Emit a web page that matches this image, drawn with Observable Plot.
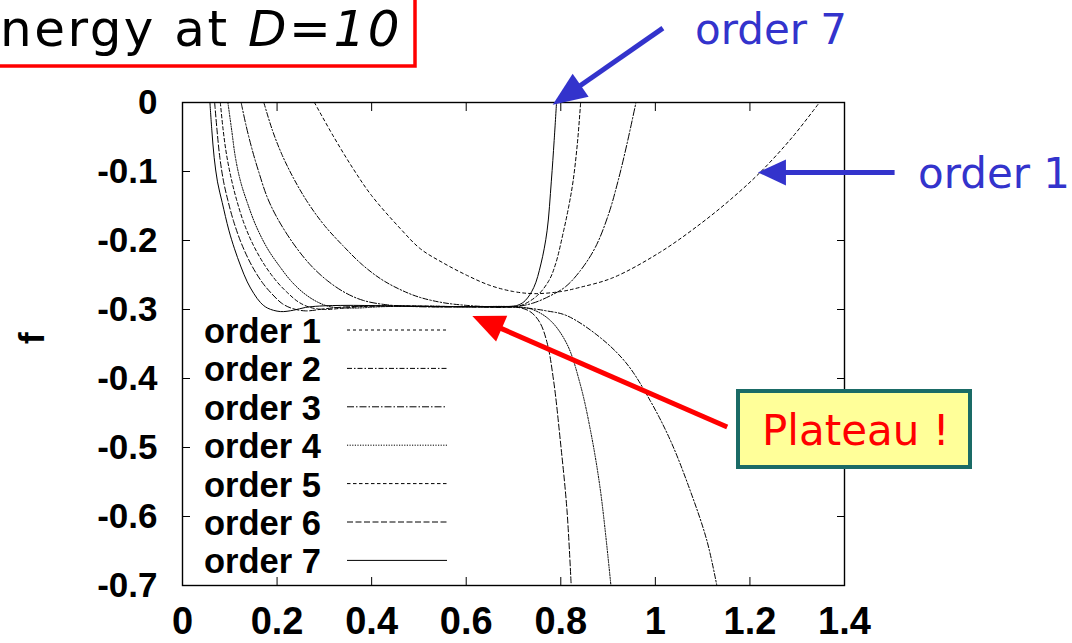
<!DOCTYPE html>
<html><head><meta charset="utf-8">
<script src="https://cdn.jsdelivr.net/npm/d3@7"></script>
<script src="https://cdn.jsdelivr.net/npm/@observablehq/plot@0.6"></script>
<style>
html,body{margin:0;padding:0;background:#fff;overflow:hidden}
#wrap{position:relative;width:1072px;height:643px}
#wrap svg{display:block}
g[aria-label$="tick label"] text{font-weight:bold}
</style></head><body><div id="wrap"></div>
<script>
// ---- data (x, f) ----
const seriesNames = ["order 1","order 2","order 3","order 4","order 5","order 6","order 7"];
const xTicks = [0,0.2,0.4,0.6,0.8,1,1.2,1.4];
const yTicks = [0,-0.1,-0.2,-0.3,-0.4,-0.5,-0.6,-0.7];

const order1 = [[0.279,0],[0.32,-0.05],[0.36,-0.095],[0.40,-0.135],[0.461,-0.183],[0.503,-0.212],[0.55,-0.232],[0.60,-0.25],[0.65,-0.265],[0.70,-0.274],[0.745,-0.277],[0.80,-0.274],[0.84,-0.268],[0.91,-0.254],[1.01,-0.217],[1.095,-0.176],[1.16,-0.14],[1.222,-0.101],[1.29,-0.05],[1.347,0]];
const order2 = [[0.172,0],[0.19,-0.04],[0.21,-0.075],[0.235,-0.11],[0.265,-0.145],[0.30,-0.178],[0.34,-0.208],[0.38,-0.235],[0.42,-0.256],[0.46,-0.271],[0.50,-0.282],[0.55,-0.29],[0.60,-0.294],[0.65,-0.296],[0.715,-0.297],[0.77,-0.302],[0.813,-0.309],[0.884,-0.341],[0.94,-0.379],[0.989,-0.432],[1.032,-0.49],[1.074,-0.563],[1.109,-0.635],[1.13,-0.70]];
const order3 = [[0.124,0],[0.135,-0.035],[0.148,-0.07],[0.161,-0.1],[0.179,-0.137],[0.20,-0.167],[0.235,-0.205],[0.27,-0.235],[0.306,-0.258],[0.345,-0.276],[0.383,-0.287],[0.43,-0.293],[0.50,-0.296],[0.60,-0.296],[0.70,-0.296],[0.74,-0.291],[0.778,-0.28],[0.81,-0.267],[0.841,-0.244],[0.873,-0.21],[0.901,-0.162],[0.921,-0.114],[0.94,-0.06],[0.959,0]];
const order4 = [[0.096,0],[0.104,-0.04],[0.112,-0.08],[0.123,-0.115],[0.137,-0.145],[0.155,-0.178],[0.18,-0.212],[0.207,-0.239],[0.23,-0.259],[0.256,-0.276],[0.285,-0.289],[0.313,-0.296],[0.36,-0.298],[0.42,-0.296],[0.5,-0.295],[0.6,-0.296],[0.70,-0.296],[0.74,-0.300],[0.778,-0.316],[0.813,-0.35],[0.841,-0.408],[0.863,-0.476],[0.884,-0.563],[0.906,-0.70]];
const order5 = [[0.080,0],[0.086,-0.04],[0.093,-0.075],[0.103,-0.11],[0.114,-0.14],[0.13,-0.175],[0.15,-0.207],[0.175,-0.237],[0.20,-0.26],[0.221,-0.275],[0.245,-0.289],[0.27,-0.297],[0.30,-0.300],[0.34,-0.298],[0.40,-0.295],[0.5,-0.295],[0.6,-0.296],[0.70,-0.296],[0.72,-0.293],[0.75,-0.28],[0.775,-0.258],[0.789,-0.234],[0.806,-0.186],[0.817,-0.15],[0.826,-0.114],[0.835,-0.06],[0.842,0]];
const order6 = [[0.068,0],[0.073,-0.04],[0.079,-0.08],[0.087,-0.115],[0.096,-0.142],[0.108,-0.172],[0.125,-0.205],[0.147,-0.237],[0.17,-0.262],[0.19,-0.278],[0.21,-0.291],[0.23,-0.298],[0.26,-0.302],[0.30,-0.299],[0.35,-0.296],[0.45,-0.295],[0.55,-0.296],[0.65,-0.296],[0.71,-0.297],[0.735,-0.303],[0.755,-0.318],[0.771,-0.348],[0.785,-0.404],[0.799,-0.49],[0.813,-0.59],[0.822,-0.70]];
const order7 = [[0.058,0],[0.062,-0.04],[0.067,-0.08],[0.074,-0.115],[0.084,-0.145],[0.098,-0.185],[0.11,-0.212],[0.123,-0.237],[0.137,-0.26],[0.151,-0.277],[0.165,-0.29],[0.18,-0.298],[0.207,-0.303],[0.235,-0.301],[0.26,-0.297],[0.29,-0.295],[0.35,-0.294],[0.45,-0.295],[0.55,-0.296],[0.65,-0.296],[0.70,-0.295],[0.712,-0.293],[0.725,-0.287],[0.743,-0.268],[0.758,-0.234],[0.771,-0.186],[0.78,-0.114],[0.786,-0.055],[0.791,0]];

// annotation arrows (tail -> tip, in data units)
const arrow7 = {from:[1.017,0.107], to:[0.784,-0.004]};
const arrow1 = {from:[1.507,-0.102], to:[1.218,-0.102]};
const arrowPlateau = {from:[1.153,-0.471], to:[0.614,-0.310]};

// ---- styles ----
const series = [order1,order2,order3,order4,order5,order6,order7];
const dashes = ["3,3","5,2,1.5,2","7,2,1.5,2","1.2,1.4","3.5,2.5","6,2.5",null];
const tickFmt = d => String(+(+d).toFixed(1));
const labelFont = "'Liberation Sans', Arial, Helvetica, sans-serif";
const slideFont = "'DejaVu Sans', Verdana, sans-serif";

const marks = [];
series.forEach((pts, i) => {
  marks.push(Plot.line(pts, {x: d => d[0], y: d => d[1], stroke: "#000", strokeWidth: 1,
    strokeDasharray: dashes[i], curve: "catmull-rom", clip: true}));
});
marks.push(
  Plot.frame({stroke: "#000", strokeWidth: 1.4}),
  Plot.axisX({anchor: "bottom", ticks: xTicks, tickSize: -8, tickFormat: () => "", label: null}),
  Plot.axisX({anchor: "top", ticks: xTicks, tickSize: -8, tickFormat: () => "", label: null}),
  Plot.axisY({anchor: "left", ticks: yTicks, tickSize: -8, tickFormat: () => "", label: null}),
  Plot.axisY({anchor: "right", ticks: yTicks, tickSize: -8, tickFormat: () => "", label: null}),
  Plot.axisX({anchor: "bottom", ticks: xTicks, tickSize: 0, tickPadding: 22, tickFormat: tickFmt,
    label: null, fontSize: 38, fontWeight: "bold", fontFamily: labelFont}),
  Plot.axisY({anchor: "left", ticks: yTicks, tickSize: 0, tickPadding: 25, tickFormat: tickFmt,
    label: null, fontSize: 35, fontWeight: "bold", fontFamily: labelFont}),
  Plot.text(["f"], {frameAnchor: "left", dx: -150, rotate: -90, text: d => d,
    fontSize: 35, fontWeight: "bold", fontFamily: labelFont, fill: "#000"})
);

const chart = Plot.plot({
  width: 1072, height: 643,
  marginLeft: 182, marginRight: 228, marginTop: 102, marginBottom: 58,
  x: {domain: [0, 1.4]},
  y: {domain: [-0.7, 0]},
  style: {fontFamily: labelFont, background: "#fff", color: "#000"},
  marks
});
document.getElementById("wrap").appendChild(chart);

// ---- overlay: legend, annotations ----
const sx = chart.scale("x"), sy = chart.scale("y");
const X = v => sx.apply(v), Y = v => sy.apply(v);
const svg = d3.select(chart);
const g = svg.append("g").attr("text-anchor", "start");

// legend inside the frame
const lg = g.append("g");
seriesNames.forEach((name, i) => {
  const yy = 330 + i * 38.4;
  lg.append("text").attr("x", 204).attr("y", yy + 13).attr("text-anchor", "start").text(name)
    .attr("font-family", labelFont).attr("font-weight", "bold").attr("font-size", 34.5).attr("fill", "#000");
  lg.append("line").attr("x1", 347).attr("x2", 447).attr("y1", yy).attr("y2", yy)
    .attr("stroke", "#000").attr("stroke-width", 1).attr("stroke-dasharray", dashes[i]);
});

function arrow(a, color, w, headLen, headHalf) {
  const x1 = X(a.from[0]), y1 = Y(a.from[1]), x2 = X(a.to[0]), y2 = Y(a.to[1]);
  const dx = x2 - x1, dy = y2 - y1, L = Math.hypot(dx, dy), ux = dx / L, uy = dy / L;
  const bx = x2 - ux * headLen, by = y2 - uy * headLen;
  g.append("line").attr("x1", x1).attr("y1", y1).attr("x2", bx + ux * 2).attr("y2", by + uy * 2)
    .attr("stroke", color).attr("stroke-width", w);
  g.append("polygon").attr("fill", color).attr("points",
    [[x2, y2], [bx - uy * headHalf, by + ux * headHalf], [bx + uy * headHalf, by - ux * headHalf]].map(p => p.join(",")).join(" "));
}
arrow(arrow7, "#3333cc", 5, 34, 14);
arrow(arrow1, "#3333cc", 5, 28, 13);

// Plateau box
g.append("rect").attr("x", 738).attr("y", 391).attr("width", 232).attr("height", 76)
  .attr("fill", "#ffff99").attr("stroke", "#1a6b66").attr("stroke-width", 4);
g.append("text").attr("x", 762).attr("y", 445).attr("text-anchor", "start").text("Plateau !")
  .attr("font-family", slideFont).attr("font-size", 42).attr("fill", "#ff0000");
arrow(arrowPlateau, "#ff0000", 5, 32, 14);

// blue labels
g.append("text").attr("x", 695).attr("y", 44).attr("text-anchor", "start").text("order 7")
  .attr("font-family", slideFont).attr("font-size", 42).attr("fill", "#3333cc");
g.append("text").attr("x", 918).attr("y", 188).attr("text-anchor", "start").text("order 1")
  .attr("font-family", slideFont).attr("font-size", 42).attr("fill", "#3333cc");

// title box (cut off at the left edge)
g.append("rect").attr("x", -10).attr("y", -10).attr("width", 425).attr("height", 76)
  .attr("fill", "#fff").attr("stroke", "#ff0000").attr("stroke-width", 3.5);
const t = g.append("text").attr("x", 0).attr("y", 46).attr("text-anchor", "start")
  .attr("font-family", slideFont).attr("font-size", 50)
  .attr("letter-spacing", 2.5).attr("fill", "#000");
t.append("tspan").text("nergy at ");
t.append("tspan").attr("font-style", "italic").text("D=10");
</script>
</body></html>
